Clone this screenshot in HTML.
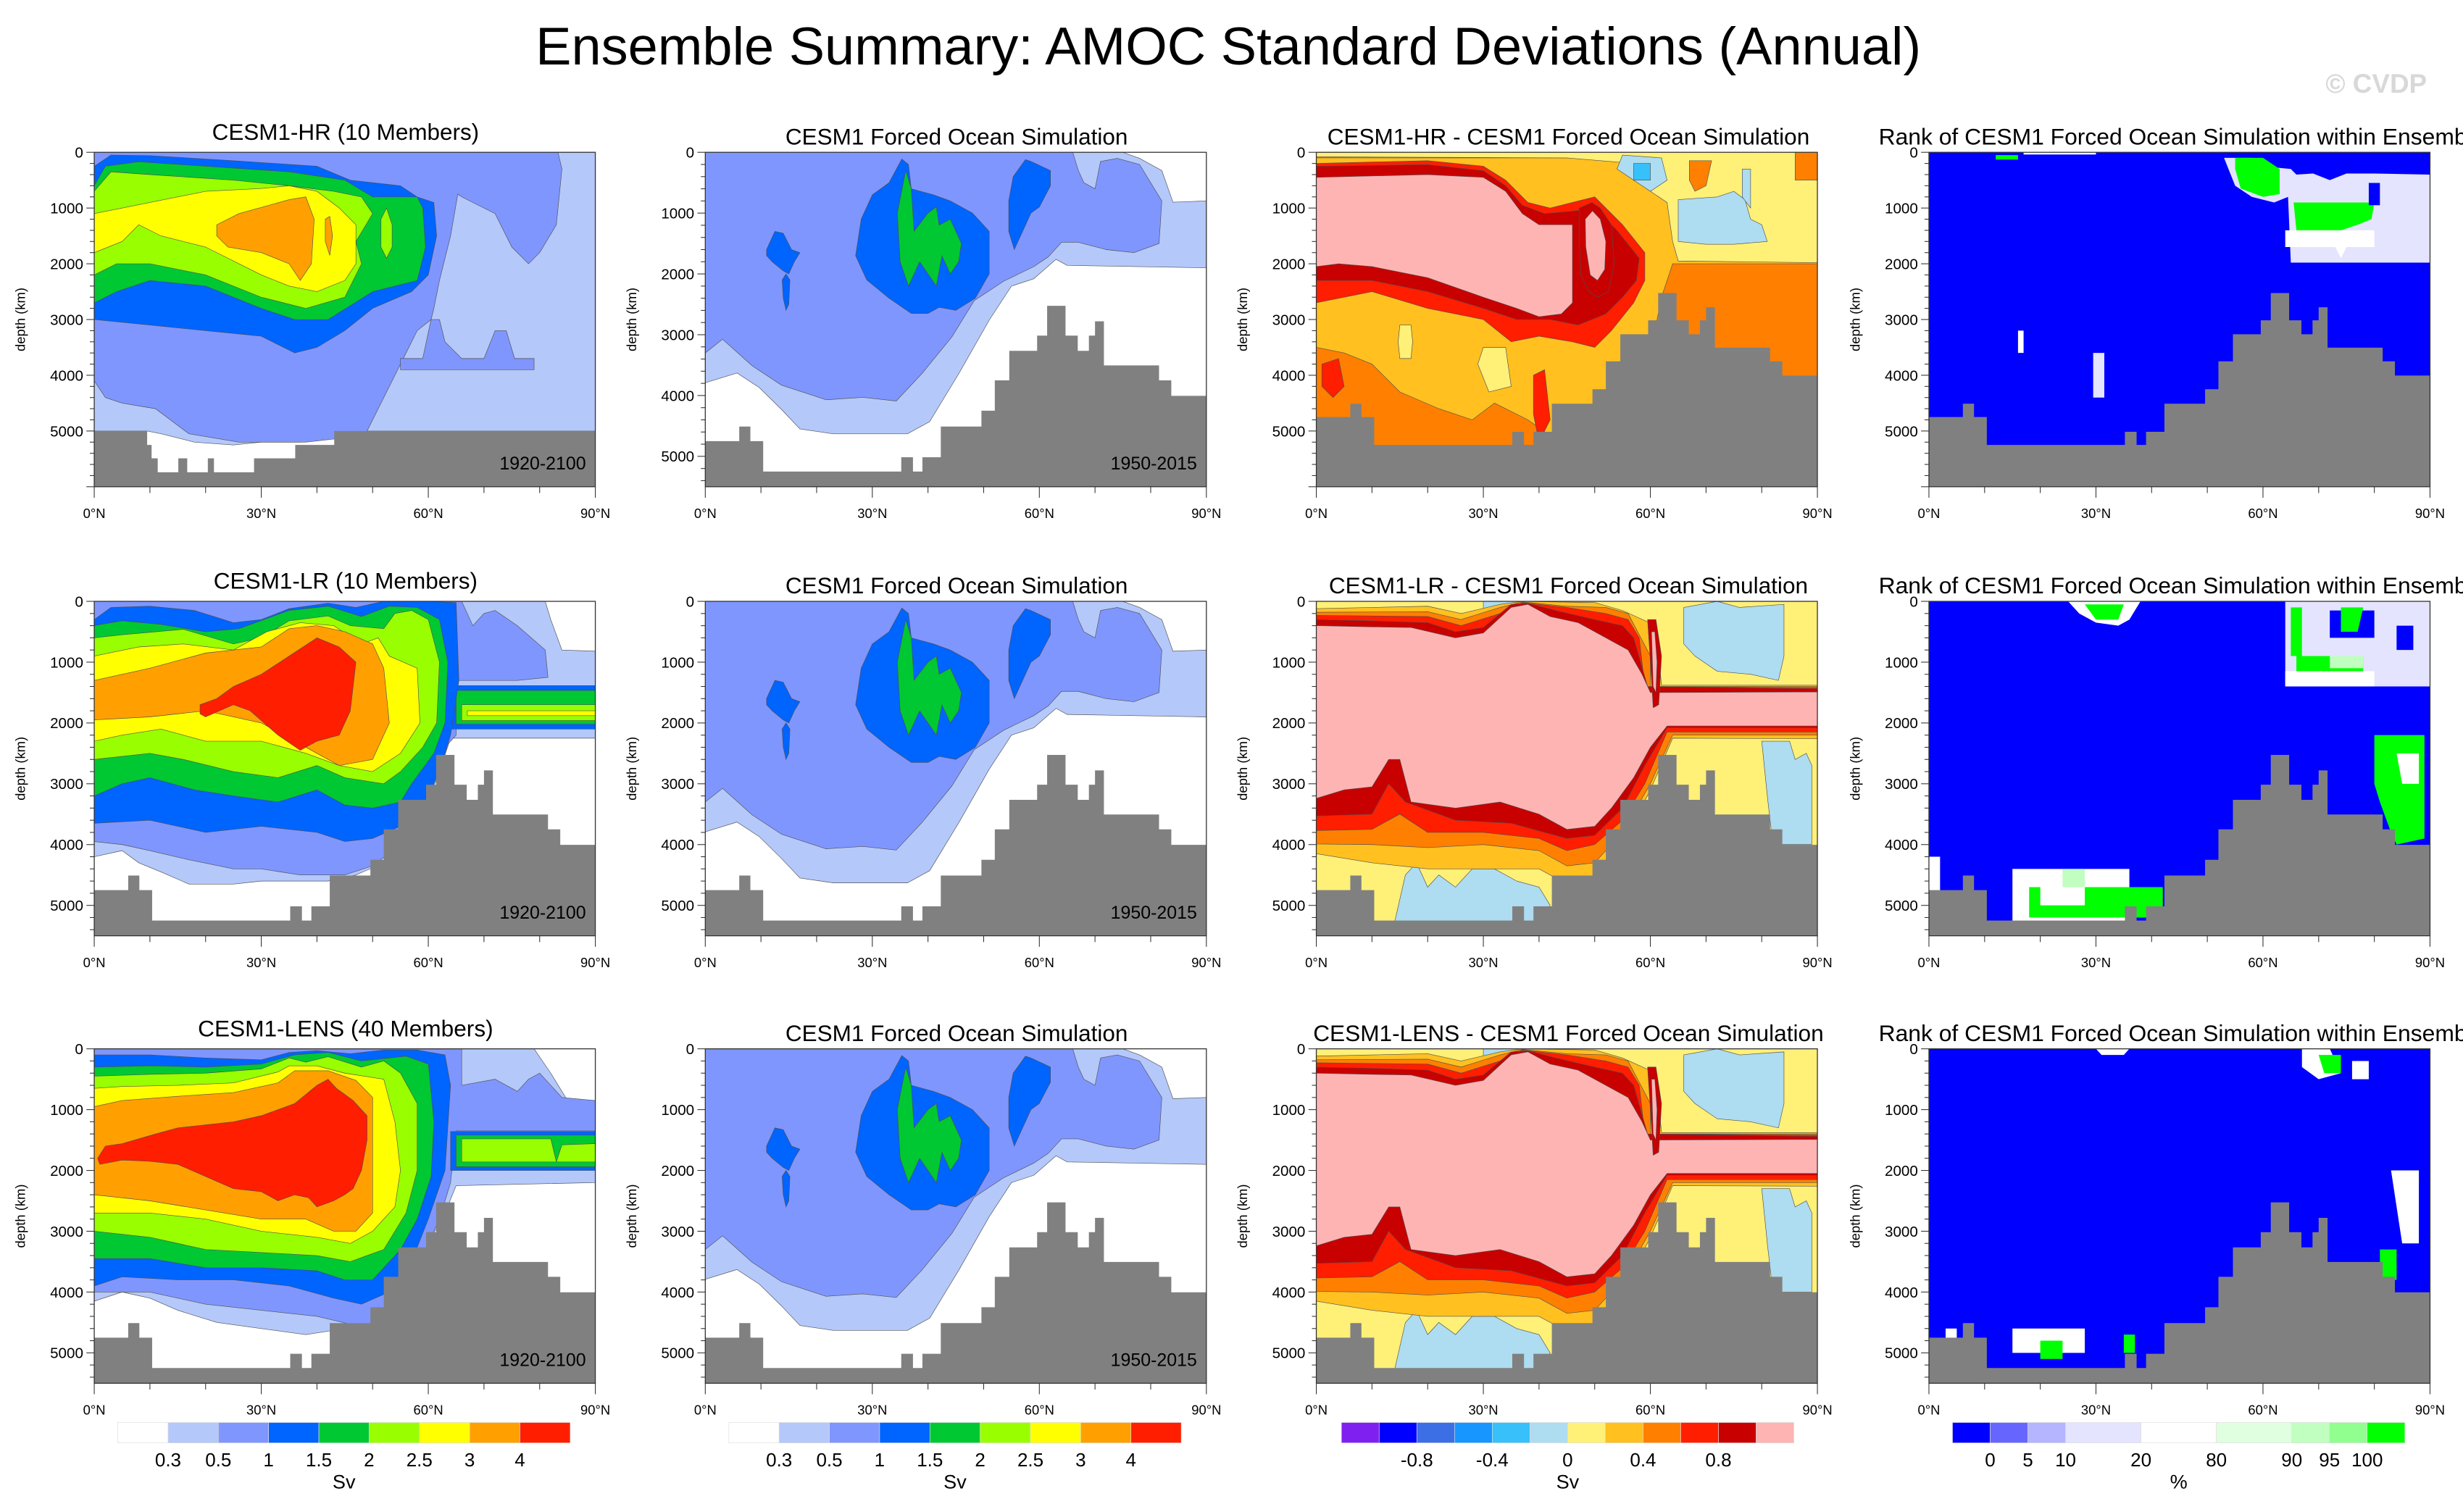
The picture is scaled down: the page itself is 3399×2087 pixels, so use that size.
<!DOCTYPE html>
<html><head><meta charset="utf-8"><title>AMOC Standard Deviations</title>
<style>html,body{margin:0;padding:0;background:#fff}svg{display:block}text{font-family:"Liberation Sans",sans-serif}</style>
</head><body>
<svg id="fig" xmlns="http://www.w3.org/2000/svg" width="3399" height="2087" viewBox="0 0 1568 963" preserveAspectRatio="none">
<text x="782" y="41" font-size="34" text-anchor="middle" textLength="882" lengthAdjust="spacingAndGlyphs">Ensemble Summary: AMOC Standard Deviations (Annual)</text>
<text x="1545" y="59" font-size="17" font-weight="bold" fill="#d8d8d8" text-anchor="end">© CVDP</text>
</svg>
<script>
// ---------- data ----------
const latTicks = [0, 30, 60, 90];
const latTickLabels = ['0°N', '30°N', '60°N', '90°N'];
const depthTicks = [0, 1000, 2000, 3000, 4000, 5000];
const colsX = [60, 449, 838, 1228];
const rowsY = [97, 383, 668];

const sdColors = ['#ffffff','#b4c8fa','#8096ff','#0064ff','#00c832','#99ff00','#ffff00','#ffa000','#ff1e00'];
const sdLabels = ['0.3','0.5','1','1.5','2','2.5','3','4'];
const diffColors = ['#8020f0','#0000ff','#3c6ee6','#1896ff','#38c0fa','#aedcf0','#fff078','#ffc020','#ff8000','#ff1e00','#c80000','#ffb4b4'];
const diffLabels = ['-0.8','-0.4','0','0.4','0.8'];
const diffLabelIdx = [2,4,6,8,10];
const rankColors = ['#0000ff','#6666ff','#b4b4ff','#e4e4ff','#ffffff','#e0ffe0','#c0ffc0','#90ff90','#00ff00'];
const rankUnits = [1,1,1,2,2,2,1,1,1];
const rankLabels = ['0','5','10','20','80','90','95','100'];

// bathymetry steps: [start latitude, depth]
const hrBathy = [[0,5000],[9.5,5250],[10.3,5490],[11.4,5740],[15.1,5490],[16.7,5740],[20.4,5490],[21.5,5740],[28.7,5490],[36.1,5250],[43.1,5000]];
const ocnBathy = [[0,4750],[6.1,4510],[8.1,4750],[10.4,5250],[35.2,5015],[37.3,5250],[39.0,5015],[42.3,4510],[49.6,4250],[52.0,3750],[54.6,3265],[59.6,3015],[61.4,2525],[64.7,3015],[66.9,3265],[68.9,3015],[70.0,2780],[71.6,3505],[81.5,3750],[83.7,4005]];

// CESM1-HR std dev contours
const hrLight = [[0,0],[90,0],[90,5000],[43,5000],[42,5150],[37,5200],[30,5200],[25,5250],[18,5200],[12,5050],[9.5,5000],[0,5000]];
const hrMedium = [[0,0],[83.3,0],[84,300],[83,1300],[80,1800],[78,2000],[75,1700],[72,1100],[66,800],[65.3,750],[64,1500],[62,2300],[61,2800],[60.5,3000],[58,3200],[56,3600],[53,4200],[51,4600],[49,5000],[47,5100],[38,5200],[26,5200],[17,5050],[11,4600],[5,4500],[2,4400],[0,4100]];
const hrMediumPatch = [[55,3700],[59,3700],[60.5,3000],[62,3000],[63,3400],[66,3700],[70,3700],[72,3200],[74,3200],[75.5,3700],[79,3700],[79,3900],[55,3900]];
const hrBlue = [[0,250],[3,50],[10,60],[25,150],[40,250],[46,500],[55,600],[58,800],[61,900],[61.5,1500],[60,2200],[57,2500],[50,2800],[45,3200],[40,3500],[36,3600],[30,3300],[20,3200],[10,3100],[0,3000]];
const hrGreen = [[0,600],[2,250],[8,170],[20,250],[35,350],[45,500],[50,800],[58,800],[59,1000],[59.5,1700],[58,2300],[50,2500],[42,3000],[36,3000],[30,2800],[20,2400],[10,2300],[4,2500],[0,2700]];
const hrYG = [[0,700],[3,350],[10,400],[25,500],[35,600],[43,700],[48,800],[50,1100],[47,1600],[48,2000],[45,2600],[38,2800],[30,2600],[20,2200],[10,2000],[4,2000],[0,2200]];
const hrYGBlob = [[51.5,1200],[52.5,1000],[53.5,1300],[53.5,1700],[52.5,1900],[51.5,1700]];
const hrYellow = [[0,1100],[5,1000],[10,900],[20,700],[30,650],[35,600],[40,700],[44,1000],[47,1300],[47,2000],[45,2300],[40,2500],[35,2400],[30,2200],[20,1700],[12,1500],[8,1300],[5,1600],[0,1800]];
const hrOrange = [[22,1300],[26,1100],[35,850],[38,800],[39.5,1200],[39,2000],[37,2300],[35,2000],[30,1800],[24,1700],[22,1500]];
const hrOrangeBlob = [[41.5,1200],[42.3,1150],[42.8,1500],[42.3,1850],[41.5,1600]];

// CESM1-LR std dev contours
const lrLight = [[0,0],[90,0],[90,2250],[64,2250],[62,2800],[60,3300],[57,3800],[52,4300],[47,4500],[42,4600],[30,4600],[25,4650],[17,4650],[12,4450],[8,4300],[5,4100],[0,4200]];
const lrWhiteTop = [[81,0],[90,0],[90,820],[84,800],[82,300]];
const lrMedium = [[0,0],[66,0],[68,400],[70,200],[72,150],[76,400],[81,800],[81.5,1250],[76,1300],[65,1300],[65,2200],[63,2400],[61,3000],[59,3400],[55,4000],[50,4350],[45,4500],[37,4500],[30,4400],[25,4400],[17,4250],[10,4100],[5,4000],[0,3950]];
const lrBandBlue = [[64,1385],[90,1385],[90,2100],[64,2100]];
const lrBandGreen = [[65,1465],[90,1465],[90,2020],[65,2020]];
const lrBandYG = [[66,1700],[90,1700],[90,1960],[66,1960]];
const lrBandYellow = [[67,1800],[90,1800],[90,1880],[67,1880]];
const lrBlue = [[0,300],[3,100],[10,80],[18,150],[25,350],[30,300],[35,120],[42,30],[47,100],[52,0],[59,0],[65,20],[65.5,1300],[64,2200],[62,2800],[59,3400],[55,3700],[50,3900],[45,3950],[40,3800],[30,3700],[20,3800],[10,3600],[0,3650]];
const lrGreen = [[0,400],[5,320],[12,380],[20,500],[26,450],[35,150],[42,80],[48,250],[53,80],[58,100],[62,300],[63.5,1000],[63,2000],[61,2500],[57,3000],[55,3300],[50,3400],[45,3350],[40,3100],[33,3300],[25,3200],[18,3100],[10,2900],[5,3000],[0,3200]];
const lrYG = [[0,600],[5,550],[16,460],[25,700],[30,600],[35,320],[42,240],[46,400],[52,450],[54,200],[57,150],[60,300],[62,1000],[61.5,2000],[59,2400],[55,2800],[52,3000],[45,2900],[40,2700],[33,2900],[25,2800],[16,2600],[10,2500],[0,2600]];
const lrYellow = [[0,900],[8,750],[16,700],[25,800],[31,500],[37,350],[43,400],[48,700],[51,600],[53,900],[58,1100],[58.5,2000],[55,2500],[50,2800],[44,2700],[38,2500],[30,2300],[20,2300],[12,2100],[5,2200],[0,2300]];
const lrOrange = [[0,1300],[10,1100],[20,850],[30,750],[35,450],[40,400],[45,500],[50,700],[52,1100],[53,2000],[50,2600],[44,2700],[38,2400],[30,2000],[20,1800],[10,1900],[0,1950]];
const lrRed = [[19,1700],[22,1600],[25,1400],[30,1200],[35,900],[40,600],[44,750],[47,1000],[46,1800],[44,2200],[40,2300],[37,2450],[33,2200],[28,1800],[25,1700],[20,1900],[19,1850]];

// CESM1-LENS std dev contours
const lensLight = [[0,0],[90,0],[90,2200],[65,2250],[63,2700],[60,3200],[55,4100],[50,4600],[45,4600],[38,4700],[30,4600],[22,4500],[15,4300],[10,4100],[5,4000],[0,4150]];
const lensWhiteTop = [[79,0],[90,0],[90,850],[85,850],[82,400]];
const lensMedium = [[0,0],[66,0],[66,600],[72,500],[76,700],[78,500],[80,400],[84,800],[90,850],[90,1350],[65,1350],[64,2200],[62,2800],[58,3600],[55,4100],[51,4500],[47,4550],[40,4400],[30,4300],[20,4200],[10,4000],[0,4000]];
const lensBandBlue = [[64,1360],[90,1360],[90,2000],[64,2000]];
const lensBandGreen = [[65,1420],[90,1420],[90,1940],[65,1940]];
const lensBandYG1 = [[66,1480],[82,1480],[83,1860],[66,1860]];
const lensBandYG2 = [[84,1580],[90,1560],[90,1860],[83,1860]];
const lensBlue = [[0,100],[10,100],[20,150],[30,180],[35,60],[40,30],[46,80],[52,20],[58,20],[63,100],[64,600],[63.5,1300],[63,2000],[60,2800],[57,3500],[53,4000],[48,4200],[43,4100],[35,3900],[25,3800],[15,3800],[5,3750],[0,3900]];
const lensGreen = [[0,300],[10,280],[20,300],[30,250],[36,100],[42,60],[48,200],[52,160],[56,120],[60,250],[61,1200],[60.5,2100],[58,2800],[55,3300],[50,3800],[45,3800],[40,3650],[30,3600],[20,3600],[10,3450],[0,3450]];
const lensYG = [[0,450],[10,420],[20,400],[30,330],[35,150],[38,220],[42,130],[48,300],[52,200],[55,400],[58,900],[58,2000],[56,2700],[52,3300],[46,3500],[40,3400],[30,3350],[20,3300],[10,3100],[0,3000]];
const lensYellow = [[0,650],[5,620],[15,600],[25,560],[33,380],[35,280],[40,280],[45,400],[52,500],[54,1200],[55,2000],[54,2600],[50,3000],[46,3200],[40,3100],[30,3000],[20,2800],[10,2700],[0,2700]];
const lensOrange = [[0,950],[5,850],[15,780],[25,720],[33,560],[36,360],[42,360],[47,520],[50,800],[50,2700],[47,3000],[43,3000],[38,2800],[30,2800],[20,2650],[10,2500],[0,2400]];
const lensRed = [[0.6,1800],[2,1600],[5,1560],[11,1400],[15,1300],[25,1200],[30,1100],[36,900],[40,600],[42,500],[43.5,650],[46.5,850],[49,1100],[49,1500],[48,2000],[46.5,2300],[45,2400],[43,2500],[40,2600],[38.5,2450],[36,2400],[33,2500],[30,2350],[25,2300],[20,2100],[15,1900],[10,1850],[5,1830],[1,1900]];

// Forced ocean simulation std dev contours
const ocnLight = [[0,0],[75,0],[78,100],[82,300],[84,820],[90,800],[90,1900],[65,1860],[63,1760],[59,2080],[55,2200],[51,2760],[45.6,3630],[40.3,4430],[36.3,4630],[23,4630],[17,4550],[13.7,4230],[9.7,3870],[5.7,3630],[0,3790]];
const ocnMedium = [[0,0],[66,0],[67,300],[68,500],[70,600],[71,150],[74,100],[78,200],[82,800],[81.5,1500],[77,1650],[72,1600],[67,1480],[64,1480],[61.6,1720],[59,1880],[53.6,2120],[48.3,2440],[44.3,3035],[39,3630],[34.3,4090],[28.3,4030],[21.7,4070],[13.7,3830],[8.4,3510],[3.1,3075],[0,3300]];
const ocnBlueA = [[11,1600],[12.5,1300],[14,1330],[15.5,1600],[17,1650],[16,1800],[15,2000],[14,1950],[12,1800],[11,1700]];
const ocnBlueA2 = [[13.8,2100],[14.5,2000],[15.2,2100],[15,2500],[14.5,2600],[14,2400]];
const ocnBlueB = [[28,1100],[30,700],[33,500],[35.3,110],[36.5,200],[37,600],[41,700],[44,800],[48,1000],[51,1300],[51,2000],[48.5,2400],[45,2600],[42,2550],[40,2650],[37,2650],[33,2400],[29,2100],[27,1700]];
const ocnBlueC = [[54.5,800],[55.3,400],[57.5,120],[58.5,150],[62,300],[62,550],[60,900],[58.5,1000],[57,1300],[55.5,1600],[54.5,1300]];
const ocnGreen = [[34.5,1000],[36,300],[37,600],[37.5,1300],[40,1000],[41.5,900],[42,1200],[44,1100],[46,1500],[45.5,1800],[44,2000],[42.5,1700],[41.5,2200],[40,2000],[38.5,1800],[36.5,2200],[35,1800]];

// HR minus forced ocean difference contours
const dHrGold = [[0,100],[60,100],[63,300],[90,300],[90,2000],[64,2000],[62,2600],[60,3600],[57,4300],[52,5200],[45,5300],[38,4800],[32,4500],[28,4800],[22,4600],[15,4300],[10,3800],[5,3600],[0,3500]];
const dHrYellow = [[0,0],[90,0],[90,1980],[65,1950],[64,1600],[63,900],[60,700],[57,200],[45,100],[0,80]];
const dHrOrangeA = [[86,0],[90,0],[90,500],[86,500]];
const dHrOrangeB = [[67,150],[71,150],[70,600],[68,700],[67,500]];
const dHrLBlueA = [[65,850],[72,800],[75,700],[77,850],[78,1200],[80,1300],[81,1600],[75,1650],[70,1650],[65,1600]];
const dHrLBlueB = [[76.5,300],[78,300],[78,1000],[76.5,800]];
const dHrLBlueC = [[55,50],[62,100],[63,500],[60,700],[57,500],[54,300]];
const dHrMBlue = [[57,200],[60,200],[60,500],[57,500]];
const dHrRed = [[0,200],[20,150],[30,250],[34,500],[38,900],[42,1000],[46,900],[50,800],[55,1300],[59,1800],[59,2300],[57,2700],[53,3200],[50,3500],[46,3400],[40,3300],[35,3400],[30,3000],[20,2800],[10,2500],[0,2700]];
const dHrDark = [[0,250],[20,220],[30,330],[34,600],[37,950],[41,1100],[46.5,1050],[50,1000],[54,1400],[58,1900],[57.5,2300],[55,2600],[52,2900],[47,3100],[42,3000],[36,3000],[30,2800],[20,2500],[10,2300],[0,2300]];
const dHrPink = [[0,450],[20,400],[30,450],[34,700],[37,1100],[40,1300],[46,1300],[46,2700],[44,2900],[40,2950],[36,2800],[30,2600],[20,2250],[10,2050],[4,2000],[0,2050]];
const dHrDarkOval = [[47.2,1000],[49.5,900],[51,1000],[53,1300],[53.5,2000],[52.5,2500],[50.5,2600],[49,2500],[47.5,2200],[47.2,1500]];
const dHrPinkOval = [[48.3,1200],[49.6,1050],[51,1200],[52,1600],[51.8,2100],[50.5,2300],[49.2,2200],[48.4,1700]];
const dHrYBlobA = [[15,3100],[17,3100],[17.3,3400],[17,3700],[15,3700],[14.7,3400]];
const dHrYBlobB = [[30,3500],[34,3500],[35,4200],[31,4300],[29,3800]];
const dHrRBlobA = [[1,3800],[4,3700],[5,4200],[3,4400],[1,4200]];
const dHrRBlobB = [[39,4000],[41,3900],[42,4800],[40,5200],[39,4700]];

// LR/LENS minus forced ocean difference contours (top boundary then bottom boundary)
const dLrGold = [[0,120],[20,80],[26,200],[33,50],[37,0],[50,20],[55,150],[61,400],[62,1380],[90,1380],[90,2260],[64,2250],[60,3100],[55,4000],[50,4600],[45,4650],[40,4400],[30,4400],[20,4400],[10,4300],[0,4150]];
const dLrOrange = [[0,180],[20,170],[26,300],[33,100],[37,10],[45,80],[52,100],[56,200],[60,900],[60,1400],[90,1400],[90,2200],[64,2200],[60,3000],[55,3800],[50,4300],[45,4350],[40,4100],[30,4000],[20,4050],[10,4000],[0,3990]];
const dLrRed = [[0,230],[20,250],[26,400],[33,200],[37,20],[45,100],[52,200],[56,300],[58,600],[59,1400],[90,1420],[90,2150],[63,2150],[59,3000],[55,3600],[50,4000],[45,4100],[40,3900],[30,3800],[20,3800],[15,3500],[10,3750],[0,3770]];
const dLrDark = [[0,300],[10,320],[20,350],[25,500],[30,430],[35,50],[38,30],[43,150],[50,300],[55,400],[57,600],[59.5,1400],[90,1440],[90,2080],[63,2080],[59,2700],[55,3400],[50,3850],[45,3900],[35,3650],[25,3600],[16,3300],[13,3000],[10,3500],[0,3530]];
const dLrPink = [[0,400],[10,420],[17,430],[25,600],[30,520],[35,100],[38,50],[42,250],[47,350],[52,600],[56,800],[58.5,1200],[60,1500],[90,1490],[90,2050],[63,2050],[60,2400],[57,2900],[53,3400],[50,3700],[45,3750],[40,3500],[33,3300],[25,3400],[17,3300],[15,2600],[13,2600],[10,3050],[5,3100],[0,3240]];
const dLrDarkStrip = [[59.5,300],[61,300],[62,900],[61.5,1700],[60.5,1750],[60,1000]];
const dLrPinkStrip = [[60.2,500],[60.8,500],[61.2,1000],[61,1500],[60.5,1400]];
const dLrLBlueR = [[80,2300],[85,2300],[86,2600],[88,2500],[89,2700],[89,4000],[82,4000],[81,3200]];
const dLrLBlueTop = [[66,100],[72,0],[76,100],[84,50],[84,900],[83,1300],[78,1200],[72,1150],[68,900],[66,700]];
const dLrLBlueBot = [[14,5300],[16,4500],[18,4300],[20,4700],[22,4500],[25,4700],[28,4400],[32,4400],[36,4600],[40,4700],[42,5000],[40,5300]];
const dLrLBlueTop2 = [[30,0],[38,0],[37,400],[33,600],[30,300]];

// Rank patches
const rk1Lav = [[53,100],[58,100],[60,250],[65,300],[66,400],[69,380],[72,500],[75,380],[80,380],[90,400],[90,1980],[65,1980],[64.5,800],[62,900],[58,800],[55,600]];
const rk1GreenA = [[55,100],[60,100],[63,300],[63,750],[60,800],[56,650],[55,300]];
const rk1GreenB = [[65.5,900],[80,900],[79.5,1200],[77,1300],[74,1400],[66,1400]];
const rk1White = [[64,1400],[80,1400],[80,1700],[75,1700],[74,1900],[73,1700],[64,1700]];
const rk1Blue = [[79,550],[81,550],[81,950],[79,950]];
const rk1GreenC = [[12,50],[16,50],[16,130],[12,130]];
const rk1WhiteTop = [[17,0],[30,0],[30,40],[17,40]];
const rk1LavB = [[29.5,3600],[31.5,3600],[31.5,4400],[29.5,4400]];
const rk1WhiteB = [[16,3200],[17,3200],[17,3600],[16,3600]];
const rk2WhiteTop = [[25,0],[38,0],[36,300],[34,400],[30,350],[27,200]];
const rk2GreenTop = [[28,50],[35,50],[34,300],[30,300]];
const rk2LavR = [[64,0],[90,0],[90,1400],[64,1400]];
const rk2BlueR1 = [[72,150],[80,150],[80,600],[72,600]];
const rk2BlueR2 = [[84,400],[87,400],[87,800],[84,800]];
const rk2WhiteR = [[64,1150],[80,1150],[80,1400],[64,1400]];
const rk2GreenR1 = [[65,100],[67,100],[67,900],[65,900]];
const rk2GreenR2 = [[66,900],[78,900],[78,1150],[66,1150]];
const rk2GreenR3 = [[74,100],[78,100],[77,500],[74,500]];
const rk2LGreenR = [[72,900],[78,900],[78,1100],[72,1100]];
const rk2GreenSide = [[80,2200],[89,2200],[89,3900],[84,4000],[83,3800],[81,3300],[80,3000]];
const rk2WhiteSide = [[84,2500],[88,2500],[88,3000],[85,3000]];
const rk2WhiteEdge = [[0,4200],[2,4200],[2,5500],[0,5500]];
const rk2WhiteBot = [[15,4400],[36,4400],[36,5500],[15,5500]];
const rk2GreenBot = [[18,4700],[42,4700],[42,5200],[18,5200]];
const rk2WhiteBot2 = [[20,4700],[28,4700],[28,5000],[20,5000]];
const rk2LGreenBot = [[24,4400],[28,4400],[28,4700],[24,4700]];
const rk3WhiteTop = [[30,0],[36,0],[35,100],[31,100]];
const rk3WhiteR = [[67,0],[72,0],[74,400],[70,500],[67,300]];
const rk3GreenR = [[70,100],[74,100],[74,400],[71,400]];
const rk3WhiteR2 = [[76,200],[79,200],[79,500],[76,500]];
const rk3WhiteSide = [[83,2000],[88,2000],[88,3200],[85,3200]];
const rk3GreenSide = [[81,3300],[84,3300],[84,3800],[81,3800]];
const rk3WhiteBot = [[15,4600],[28,4600],[28,5000],[15,5000]];
const rk3WhiteEdge = [[3,4600],[5,4600],[5,5500],[3,5500]];
const rk3GreenBot = [[20,4800],[24,4800],[24,5100],[20,5100]];
const rk3GreenBot2 = [[35,4700],[37,4700],[37,5000],[35,5000]];

// ---------- drawing ----------
const NS = 'http://www.w3.org/2000/svg';
const svg = document.getElementById('fig');
const PW = 319, PH = 213;
let clipId = 0;

function mk(tag, attrs, parent) {
  const el = document.createElementNS(NS, tag);
  for (const k in attrs) el.setAttribute(k, attrs[k]);
  (parent || svg).appendChild(el);
  return el;
}
function pathOf(pts, X, Y) {
  return 'M' + pts.map(p => X(p[0]).toFixed(2) + ',' + Y(p[1]).toFixed(2)).join('L') + 'Z';
}
function bathyPath(steps, X, Y, dmax) {
  let pts = [[0, dmax]];
  for (let i = 0; i < steps.length; i++) {
    const a = steps[i][0], b = i + 1 < steps.length ? steps[i + 1][0] : 90;
    pts.push([a, steps[i][1]]); pts.push([b, steps[i][1]]);
  }
  pts.push([90, dmax]);
  return pathOf(pts, X, Y);
}

function panel(cfg) {
  const x0 = cfg.x0, y0 = cfg.y0, dmax = cfg.dmax;
  const X = lat => x0 + lat / 90 * PW;
  const Y = d => y0 + d / dmax * PH;
  const g = mk('g', {});
  
  
  const cp = mk('clipPath', {id: 'cp' + (++clipId)}, g);
  mk('rect', {x: x0, y: y0, width: PW, height: PH}, cp);
  const inner = mk('g', {'clip-path': 'url(#cp' + clipId + ')'}, g);
  const bg = mk('rect', {x: x0, y: y0, width: PW, height: PH, fill: cfg.bg}, inner);
  
  
  cfg.layers.forEach(L => {
    const p = mk('path', {d: pathOf(L[1], X, Y), fill: L[0], stroke: cfg.stroke ? '#505050' : 'none', 'stroke-width': 0.3}, inner);
    
    
  });
  const bt = mk('path', {d: bathyPath(cfg.bathy, X, Y, dmax), fill: '#808080'}, inner);
  
  
  const fr = mk('rect', {x: x0, y: y0, width: PW, height: PH, fill: 'none', stroke: '#333', 'stroke-width': 0.6}, g);
  
  
  for (let d = 0; d <= dmax; d += 200) {
    const major = d % 1000 === 0;
    const t = mk('line', {x1: x0, x2: x0 - (major ? 5 : 2.8), y1: Y(d), y2: Y(d), stroke: '#333', 'stroke-width': 0.5}, g);
    
    
  }
  depthTicks.forEach(d => {
    const tl = mk('text', {x: x0 - 7, y: Y(d) + 3.4, 'font-size': 9.5, 'text-anchor': 'end'}, g);
    tl.textContent = String(d);
    
    
  });
  for (let lat = 0; lat <= 90; lat += 10) {
    const major = lat % 30 === 0;
    const t = mk('line', {x1: X(lat), x2: X(lat), y1: y0 + PH, y2: y0 + PH + (major ? 7 : 4), stroke: '#333', 'stroke-width': 0.5}, g);
    
    
  }
  latTicks.forEach((lat, i) => {
    const tl = mk('text', {x: X(lat), y: y0 + PH + 20, 'font-size': 8.5, 'text-anchor': 'middle'}, g);
    tl.textContent = latTickLabels[i];
    
    
  });
  const yl = mk('text', {x: 0, y: 0, 'font-size': 8.5, 'text-anchor': 'middle', transform: 'translate(' + (x0 - 44) + ',' + (y0 + PH / 2) + ') rotate(-90)'}, g);
  yl.textContent = 'depth (km)';
  
  
  const tt = mk('text', {x: cfg.tx, y: y0 - (cfg.tdy || 9), 'font-size': 14.5, textLength: cfg.tlen, lengthAdjust: 'spacingAndGlyphs'}, g);
  tt.textContent = cfg.title;
  
  
  if (cfg.period) {
    const pr = mk('text', {x: x0 + PW - 6, y: y0 + PH - 11, 'font-size': 11.5, 'text-anchor': 'end'}, g);
    pr.textContent = cfg.period;
    
    
  }
}

const S = sdColors, D = diffColors, R = rankColors;
const ocnLayers = [[S[1], ocnLight],[S[2], ocnMedium],[S[3], ocnBlueA],[S[3], ocnBlueA2],[S[3], ocnBlueB],[S[3], ocnBlueC],[S[4], ocnGreen]];
const dLrLayers = [[D[5], dLrLBlueR],[D[5], dLrLBlueTop],[D[5], dLrLBlueBot],[D[5], dLrLBlueTop2],[D[7], dLrGold],[D[8], dLrOrange],[D[9], dLrRed],[D[10], dLrDark],[D[11], dLrPink],[D[10], dLrDarkStrip],[D[11], dLrPinkStrip]];
const rankTitle = 'Rank of CESM1 Forced Ocean Simulation within Ensemble';

panel({name:'panel-hr-stddev', x0:colsX[0], y0:rowsY[0], dmax:6000, bg:S[0], stroke:true, bathy:hrBathy, period:'1920-2100',
  title:'CESM1-HR (10 Members)', tx:135, tlen:170, tdy:8,
  layers:[[S[1],hrLight],[S[2],hrMedium],[S[2],hrMediumPatch],[S[3],hrBlue],[S[4],hrGreen],[S[5],hrYG],[S[6],hrYellow],[S[5],hrYGBlob],[S[7],hrOrange],[S[7],hrOrangeBlob]]});
panel({name:'panel-forced-ocean-1', x0:colsX[1], y0:rowsY[0], dmax:5500, bg:S[0], stroke:true, bathy:ocnBathy, period:'1950-2015',
  title:'CESM1 Forced Ocean Simulation', tx:500, tlen:218, tdy:5, layers:ocnLayers});
panel({name:'panel-hr-diff', x0:colsX[2], y0:rowsY[0], dmax:6000, bg:D[8], stroke:true, bathy:ocnBathy,
  title:'CESM1-HR - CESM1 Forced Ocean Simulation', tx:845, tlen:307, tdy:5,
  layers:[[D[7],dHrGold],[D[6],dHrYellow],[D[8],dHrOrangeA],[D[8],dHrOrangeB],[D[5],dHrLBlueA],[D[5],dHrLBlueB],[D[5],dHrLBlueC],[D[4],dHrMBlue],[D[9],dHrRed],[D[10],dHrDark],[D[11],dHrPink],[D[10],dHrDarkOval],[D[11],dHrPinkOval],[D[6],dHrYBlobA],[D[6],dHrYBlobB],[D[9],dHrRBlobA],[D[9],dHrRBlobB]]});
panel({name:'panel-hr-rank', x0:colsX[3], y0:rowsY[0], dmax:6000, bg:R[0], stroke:false, bathy:ocnBathy,
  title:rankTitle, tx:1196, tlen:386, tdy:5,
  layers:[[R[3],rk1Lav],[R[8],rk1GreenA],[R[8],rk1GreenB],[R[4],rk1White],[R[0],rk1Blue],[R[8],rk1GreenC],[R[4],rk1WhiteTop],[R[3],rk1LavB],[R[4],rk1WhiteB]]});

panel({name:'panel-lr-stddev', x0:colsX[0], y0:rowsY[1], dmax:5500, bg:S[0], stroke:true, bathy:ocnBathy, period:'1920-2100',
  title:'CESM1-LR (10 Members)', tx:136, tlen:168, tdy:8,
  layers:[[S[1],lrLight],[S[0],lrWhiteTop],[S[2],lrMedium],[S[3],lrBandBlue],[S[4],lrBandGreen],[S[5],lrBandYG],[S[6],lrBandYellow],[S[3],lrBlue],[S[4],lrGreen],[S[5],lrYG],[S[6],lrYellow],[S[7],lrOrange],[S[8],lrRed]]});
panel({name:'panel-forced-ocean-2', x0:colsX[1], y0:rowsY[1], dmax:5500, bg:S[0], stroke:true, bathy:ocnBathy, period:'1950-2015',
  title:'CESM1 Forced Ocean Simulation', tx:500, tlen:218, tdy:5, layers:ocnLayers});
panel({name:'panel-lr-diff', x0:colsX[2], y0:rowsY[1], dmax:5500, bg:D[6], stroke:true, bathy:ocnBathy,
  title:'CESM1-LR - CESM1 Forced Ocean Simulation', tx:846, tlen:305, tdy:5, layers:dLrLayers});
panel({name:'panel-lr-rank', x0:colsX[3], y0:rowsY[1], dmax:5500, bg:R[0], stroke:false, bathy:ocnBathy,
  title:rankTitle, tx:1196, tlen:386, tdy:5,
  layers:[[R[4],rk2WhiteTop],[R[8],rk2GreenTop],[R[3],rk2LavR],[R[0],rk2BlueR1],[R[0],rk2BlueR2],[R[4],rk2WhiteR],[R[8],rk2GreenR1],[R[8],rk2GreenR2],[R[8],rk2GreenR3],[R[6],rk2LGreenR],[R[8],rk2GreenSide],[R[4],rk2WhiteSide],[R[4],rk2WhiteEdge],[R[4],rk2WhiteBot],[R[8],rk2GreenBot],[R[4],rk2WhiteBot2],[R[6],rk2LGreenBot]]});

panel({name:'panel-lens-stddev', x0:colsX[0], y0:rowsY[2], dmax:5500, bg:S[0], stroke:true, bathy:ocnBathy, period:'1920-2100',
  title:'CESM1-LENS (40 Members)', tx:126, tlen:188, tdy:8,
  layers:[[S[1],lensLight],[S[0],lensWhiteTop],[S[2],lensMedium],[S[3],lensBandBlue],[S[4],lensBandGreen],[S[5],lensBandYG1],[S[5],lensBandYG2],[S[3],lensBlue],[S[4],lensGreen],[S[5],lensYG],[S[6],lensYellow],[S[7],lensOrange],[S[8],lensRed]]});
panel({name:'panel-forced-ocean-3', x0:colsX[1], y0:rowsY[2], dmax:5500, bg:S[0], stroke:true, bathy:ocnBathy, period:'1950-2015',
  title:'CESM1 Forced Ocean Simulation', tx:500, tlen:218, tdy:5, layers:ocnLayers});
panel({name:'panel-lens-diff', x0:colsX[2], y0:rowsY[2], dmax:5500, bg:D[6], stroke:true, bathy:ocnBathy,
  title:'CESM1-LENS - CESM1 Forced Ocean Simulation', tx:836, tlen:325, tdy:5, layers:dLrLayers});
panel({name:'panel-lens-rank', x0:colsX[3], y0:rowsY[2], dmax:5500, bg:R[0], stroke:false, bathy:ocnBathy,
  title:rankTitle, tx:1196, tlen:386, tdy:5,
  layers:[[R[4],rk3WhiteTop],[R[4],rk3WhiteR],[R[8],rk3GreenR],[R[4],rk3WhiteR2],[R[4],rk3WhiteSide],[R[8],rk3GreenSide],[R[4],rk3WhiteBot],[R[4],rk3WhiteEdge],[R[8],rk3GreenBot],[R[8],rk3GreenBot2]]});

// ---------- colorbars ----------
const CB_Y = 906, CB_H = 13;
function colorbar(name, x0, unitW, colors, units, labels, labelIdx, unitLabel) {
  const g = mk('g', {});
  
  
  let x = x0;
  const bounds = [x0];
  colors.forEach((c, i) => {
    const w = unitW * units[i];
    const r = mk('rect', {x: x, y: CB_Y, width: w, height: CB_H, fill: c, stroke: '#ddd', 'stroke-width': 0.3}, g);
    
    
    x += w; bounds.push(x);
  });
  labels.forEach((lab, i) => {
    const t = mk('text', {x: bounds[labelIdx[i]], y: CB_Y + CB_H + 15, 'font-size': 12, 'text-anchor': 'middle'}, g);
    t.textContent = lab;
    
    
  });
  const u = mk('text', {x: (x0 + x) / 2, y: CB_Y + CB_H + 29, 'font-size': 12.5, 'text-anchor': 'middle'}, g);
  u.textContent = unitLabel;
  
  
}
const ones9 = [1,1,1,1,1,1,1,1,1], ones12 = [1,1,1,1,1,1,1,1,1,1,1,1];
colorbar('colorbar-stddev-1', 75, 32, sdColors, ones9, sdLabels, [1,2,3,4,5,6,7,8], 'Sv');
colorbar('colorbar-stddev-2', 464, 32, sdColors, ones9, sdLabels, [1,2,3,4,5,6,7,8], 'Sv');
colorbar('colorbar-diff', 854, 24, diffColors, ones12, diffLabels, diffLabelIdx, 'Sv');
colorbar('colorbar-rank', 1243, 24, rankColors, rankUnits, rankLabels, [1,2,3,4,5,6,7,8], '%');
</script>
</body></html>
